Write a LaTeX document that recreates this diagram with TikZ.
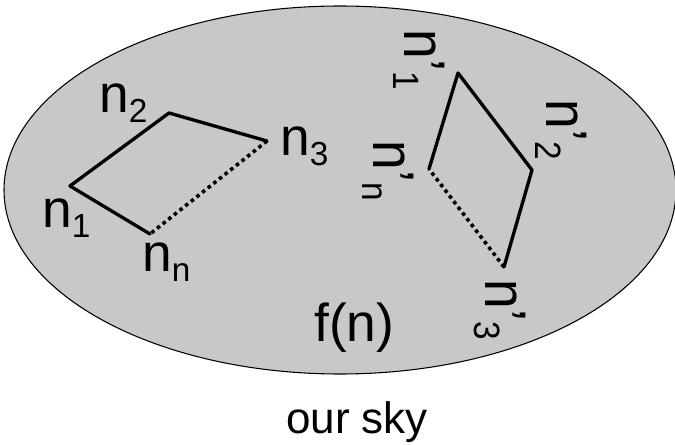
\documentclass[tikz,border=0pt]{standalone}
\usepackage{fontspec}
\setmainfont{Liberation Sans}
\usetikzlibrary{positioning}

\newcommand{\lowsub}[1]{\raisebox{-7.5pt}{\fontsize{25}{25}\selectfont #1}}
\newcommand{\tallrot}[1]{\scalebox{1}[1.1]{#1}}

\begin{document}
\begin{tikzpicture}[
  x=0.75pt,y=-0.75pt,
  lbl/.style={inner sep=0pt, anchor=base west, font=\fontsize{40}{41}\selectfont},
  rlbl/.style={inner sep=0pt, anchor=center, rotate=-90, font=\fontsize{40}{41}\selectfont},
  edge/.style={line width=2.5pt, line cap=round, line join=round},
  gap/.style={line width=2.7pt, dash pattern=on 2.7pt off 2.7pt}
]
\useasboundingbox (0,0) rectangle (675,445);
% sky
\draw[fill={rgb,255:red,200;green,200;blue,200}, line width=0.8pt] (340,190) ellipse [x radius=336, y radius=184];
% left figure
\coordinate (n1) at (70,186);
\coordinate (n2) at (169,113);
\coordinate (n3) at (267,141);
\coordinate (nn) at (150,234);
\draw[edge] (nn) -- (n1) -- (n2) -- (n3);
\draw[gap] (n3) -- (nn);
\node[lbl] (l1) at (42,228) {n\lowsub{1}};
\node[lbl] (l2) at (99,113) {n\lowsub{2}};
\node[lbl] (l3) at (280,156) {n\lowsub{3}};
\node[lbl] (ln) at (142,272) {n\lowsub{n}};
% right figure
\coordinate (m1) at (458,73);
\coordinate (m2) at (532,170);
\coordinate (m3) at (504,267);
\coordinate (mn) at (429,169);
\draw[edge] (mn) -- (m1) -- (m2) -- (m3);
\draw[gap] (m3) -- (mn);
\node[rlbl] (k1) at (419,60) {\tallrot{n’\lowsub{1}}};
\node[rlbl] (k2) at (561,130) {\tallrot{n’\lowsub{2}}};
\node[rlbl] (k3) at (500,310) {\tallrot{n’\lowsub{3}}};
\node[rlbl] (kn) at (388,171) {\tallrot{n’\lowsub{n}}};
% captions
\node[lbl] (fn) at (314,342) {f(n)};
\node[lbl, anchor=base, font=\fontsize{33}{34}\selectfont] (sky) at (357,433) {our sky};
\end{tikzpicture}
\end{document}
